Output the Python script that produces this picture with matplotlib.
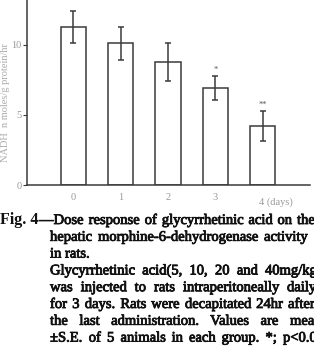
import numpy as np
import matplotlib.pyplot as plt
import matplotlib.patheffects as pe

# data
days = [0, 1, 2, 3, 4]
day_labels = ['0', '1', '2', '3', '4']
activity = [11.3, 10.1, 8.8, 6.9, 4.2]
se = [1.15, 1.15, 1.35, 0.85, 1.05]
marks = ['', '', '', '*', '**']

# caption lines and where (px) the last word of each line starts
caption = [
    '\u2014Dose response of glycyrrhetinic acid on the',
    'hepatic morphine-6-dehydrogenase activity',
    'in rats.',
    'Glycyrrhetinic acid(5, 10, 20 and 40mg/kg)',
    'was injected to rats intraperitoneally daily',
    'for 3 days. Rats were decapitated 24hr after',
    'the last administration. Values are means',
    '\u00b1S.E. of 5 animals in each group. *; p<0.05',
]
last_word_x = [297, 264, None, 265, 287, 288, 290, 283]
line_x0 = [39, 50, 50, 50, 50, 50, 50, 50]

plt.rcParams['font.family'] = 'Liberation Serif'
fig = plt.figure(figsize=(3.14, 3.48), dpi=100)
W, H = 314, 348
ax = fig.add_axes([27 / W, 1 - 185 / H, 283 / W, 185 / H])

gray = '#3a3a3a'
ax.bar(days, activity, width=0.53, color='white', edgecolor=gray, linewidth=1.1)
ax.errorbar(days, activity, yerr=se, fmt='none', ecolor=gray, elinewidth=1.1,
            capsize=2.5, capthick=1.1)
for d, v, e, m in zip(days, activity, se, marks):
    if m:
        ax.text(d, v + e + 0.15, m, ha='center', va='bottom', fontsize=6, color='#555555')

ax.set_xlim(-0.984, 5.005)
ax.set_ylim(0, 13.2)
ax.spines['top'].set_visible(False)
ax.spines['right'].set_visible(False)
for s in ['left', 'bottom']:
    ax.spines[s].set_color(gray)
    ax.spines[s].set_linewidth(1.1)

ax.set_yticks([0, 5, 10])
ax.set_yticklabels(['0', '5', '10'])
ax.tick_params(axis='y', length=3, width=0.8, colors=gray, labelcolor='#999999',
               labelsize=7.5, pad=1)
ax.set_xticks(days[:4])
ax.set_xticklabels(day_labels[:4])
ax.tick_params(axis='x', length=0, labelcolor='#999999', labelsize=7.5, pad=6)
ax.text(3.93, -0.85, day_labels[4] + ' (days)', ha='left', va='top', fontsize=7.5,
        color='#999999')

fig.text(6 / W, 1 - 103 / H, 'NADH  n moles/g protein/hr', rotation=90, fontsize=7.5,
         color='#aaaaaa', ha='center', va='center')

# caption, justified word by word
heavy = [pe.withStroke(linewidth=0.6, foreground='#111111')]
fig.text(0, 1 - 224 / H, 'Fig. 4', fontsize=11.5, fontweight='bold', va='baseline',
         color='#111111')
renderer = fig.canvas.get_renderer()
fs = 10.5
for i, line in enumerate(caption):
    yb = 1 - (224 + 16.8 * i) / H
    words = line.split(' ')
    x0 = line_x0[i]
    if last_word_x[i] is None:
        fig.text(x0 / W, yb, line, fontsize=fs, va='baseline', color='#111111',
                 path_effects=heavy)
        continue
    widths = []
    for w in words[:-1]:
        t = fig.text(0, 0, w, fontsize=fs)
        widths.append(t.get_window_extent(renderer).width)
        t.remove()
    gap = max((last_word_x[i] - x0 - sum(widths)) / (len(words) - 1), 3)
    x = x0
    for w, wd in zip(words, widths + [0]):
        fig.text(x / W, yb, w, fontsize=fs, va='baseline', color='#111111',
                 path_effects=heavy)
        x += wd + gap

fig.savefig('out.png', dpi=100)
